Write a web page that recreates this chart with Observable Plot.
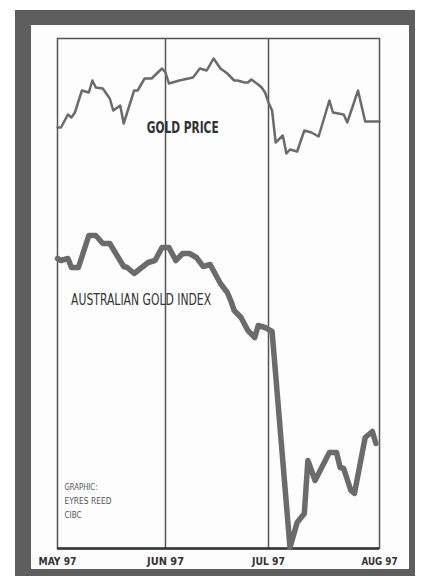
<!DOCTYPE html>
<html><head><meta charset="utf-8">
<script src="https://cdn.jsdelivr.net/npm/d3@7"></script>
<script src="https://cdn.jsdelivr.net/npm/@observablehq/plot@0.6"></script>
<style>
html,body{margin:0;padding:0;background:#fff;width:421px;height:576px;overflow:hidden;}
#mat{position:absolute;left:15px;top:10px;width:400px;height:566px;background:#5e5e5e;}
#paper{position:absolute;left:31px;top:25px;width:378px;height:544px;background:#fdfdfd;}
#chart{position:absolute;left:0;top:0;}
</style></head><body>
<div id="mat"></div><div id="paper"></div><div id="chart"></div>
<script>
// Month boundaries and bottom labels
const monthDates = ["1997-05-01","1997-06-01","1997-07-01","1997-08-01"];
const monthLabels = ["MAY 97","JUN 97","JUL 97","AUG 97"];

// Gold price (arbitrary chart units)
const priceDates = ["1997-05-01","1997-05-02","1997-05-04","1997-05-05","1997-05-06","1997-05-08","1997-05-10","1997-05-11","1997-05-12","1997-05-14","1997-05-16","1997-05-17","1997-05-19","1997-05-20","1997-05-23","1997-05-24","1997-05-26","1997-05-28","1997-05-31",
"1997-06-01","1997-06-02","1997-06-05","1997-06-09","1997-06-11","1997-06-13","1997-06-15","1997-06-17","1997-06-19","1997-06-21","1997-06-22","1997-06-24","1997-06-25","1997-06-26","1997-06-28","1997-06-29","1997-06-30",
"1997-07-01","1997-07-02","1997-07-03","1997-07-05","1997-07-06","1997-07-07","1997-07-09","1997-07-11","1997-07-13","1997-07-15","1997-07-18","1997-07-19","1997-07-22","1997-07-23","1997-07-26","1997-07-28","1997-08-01"];
const priceValues = [421,421,434,431,436,458,456,468,461,460,450,438,443,425,458,458,470,470,480,
476,465,468,471,480,478,490,480,475,468,468,466,466,469,464,461,456,
446,438,406,413,395,399,397,418,416,412,448,436,434,426,458,427,427];

// Australian gold index (arbitrary chart units)
const indexDates = ["1997-05-01","1997-05-02","1997-05-04","1997-05-05","1997-05-07","1997-05-10","1997-05-12","1997-05-14","1997-05-16","1997-05-20","1997-05-21","1997-05-23","1997-05-27","1997-05-29","1997-05-31",
"1997-06-02","1997-06-04","1997-06-06","1997-06-08","1997-06-10","1997-06-12","1997-06-14","1997-06-17","1997-06-19","1997-06-20","1997-06-21","1997-06-23","1997-06-25","1997-06-27","1997-06-28","1997-06-30",
"1997-07-02","1997-07-07","1997-07-09","1997-07-11","1997-07-12","1997-07-14","1997-07-18","1997-07-20","1997-07-21","1997-07-22","1997-07-24","1997-07-25","1997-07-28","1997-07-30","1997-07-31"];
const indexValues = [290,288,290,281,281,313,313,305,305,282,281,275,286,288,301,
301,288,295,295,291,282,284,265,256,248,238,231,218,211,223,221,
217,1,26,35,88,68,96,96,81,80,58,55,111,117,105];

const seriesLabels = ["GOLD PRICE","AUSTRALIAN GOLD INDEX"];
const creditText = "GRAPHIC:\nEYRES REED\nCIBC";

const months = monthDates.map(d => new Date(d));
const priceRows = priceDates.map((d,i) => ({date: new Date(d), value: priceValues[i]}));
const indexRows = indexDates.map((d,i) => ({date: new Date(d), value: indexValues[i]}));

const font = "'DejaVu Sans Condensed','Liberation Sans Narrow','DejaVu Sans',sans-serif";
const lineColor = "#6b6b6b";

const chart = Plot.plot({
  width: 421, height: 576,
  marginLeft: 57, marginRight: 42, marginTop: 38, marginBottom: 28,
  style: {background: "transparent", fontFamily: font},
  x: {type: "utc", domain: months, range: [57,165,268,379], axis: null},
  y: {domain: [0, 510], axis: null},
  marks: [
    Plot.ruleX(months.slice(1,3), {stroke: "#555", strokeWidth: 1.5}),
    Plot.frame({stroke: "#555", strokeWidth: 1.5}),
    Plot.ruleY([0], {stroke: "#333", strokeWidth: 2.5}),
    Plot.line(priceRows, {x: "date", y: "value", stroke: lineColor, strokeWidth: 2.5, strokeLinejoin: "round"}),
    Plot.line(indexRows, {x: "date", y: "value", stroke: lineColor, strokeWidth: 5.5, strokeLinejoin: "round"}),
    Plot.text([seriesLabels[0]], {x: () => new Date("1997-06-06"), y: () => 420, text: d => d,
      fontSize: 15, fontWeight: "bold", fill: "#333", fontFamily: font}),
    Plot.text([seriesLabels[1]], {x: () => new Date("1997-05-25"), y: () => 248, text: d => d,
      fontSize: 15, fill: "#333", fontFamily: font}),
    Plot.text([creditText], {x: () => new Date("1997-05-03"), y: () => 49, text: d => d,
      textAnchor: "start", fontSize: 9.5, lineHeight: 1.45, fill: "#555", fontFamily: font}),
    Plot.axisX(months, {tickSize: 0, tickPadding: 9, fontSize: 11, fontWeight: "bold", fill: "#333",
      tickFormat: d => monthLabels[months.findIndex(m => +m === +d)]})
  ]
});
document.getElementById("chart").appendChild(chart);

const widths = {"GOLD PRICE":72, "AUSTRALIAN GOLD INDEX":140, "MAY 97":38, "JUN 97":37, "JUL 97":33, "AUG 97":36,
  "GRAPHIC:":33, "EYRES REED":47, "CIBC":17};
d3.select(chart).selectAll("text, tspan").each(function() {
  if (this.tagName === "text" && this.querySelector("tspan")) return;
  const w = widths[this.textContent.trim()];
  if (w) { this.setAttribute("textLength", w); this.setAttribute("lengthAdjust", "spacingAndGlyphs"); }
});
</script>
</body></html>
